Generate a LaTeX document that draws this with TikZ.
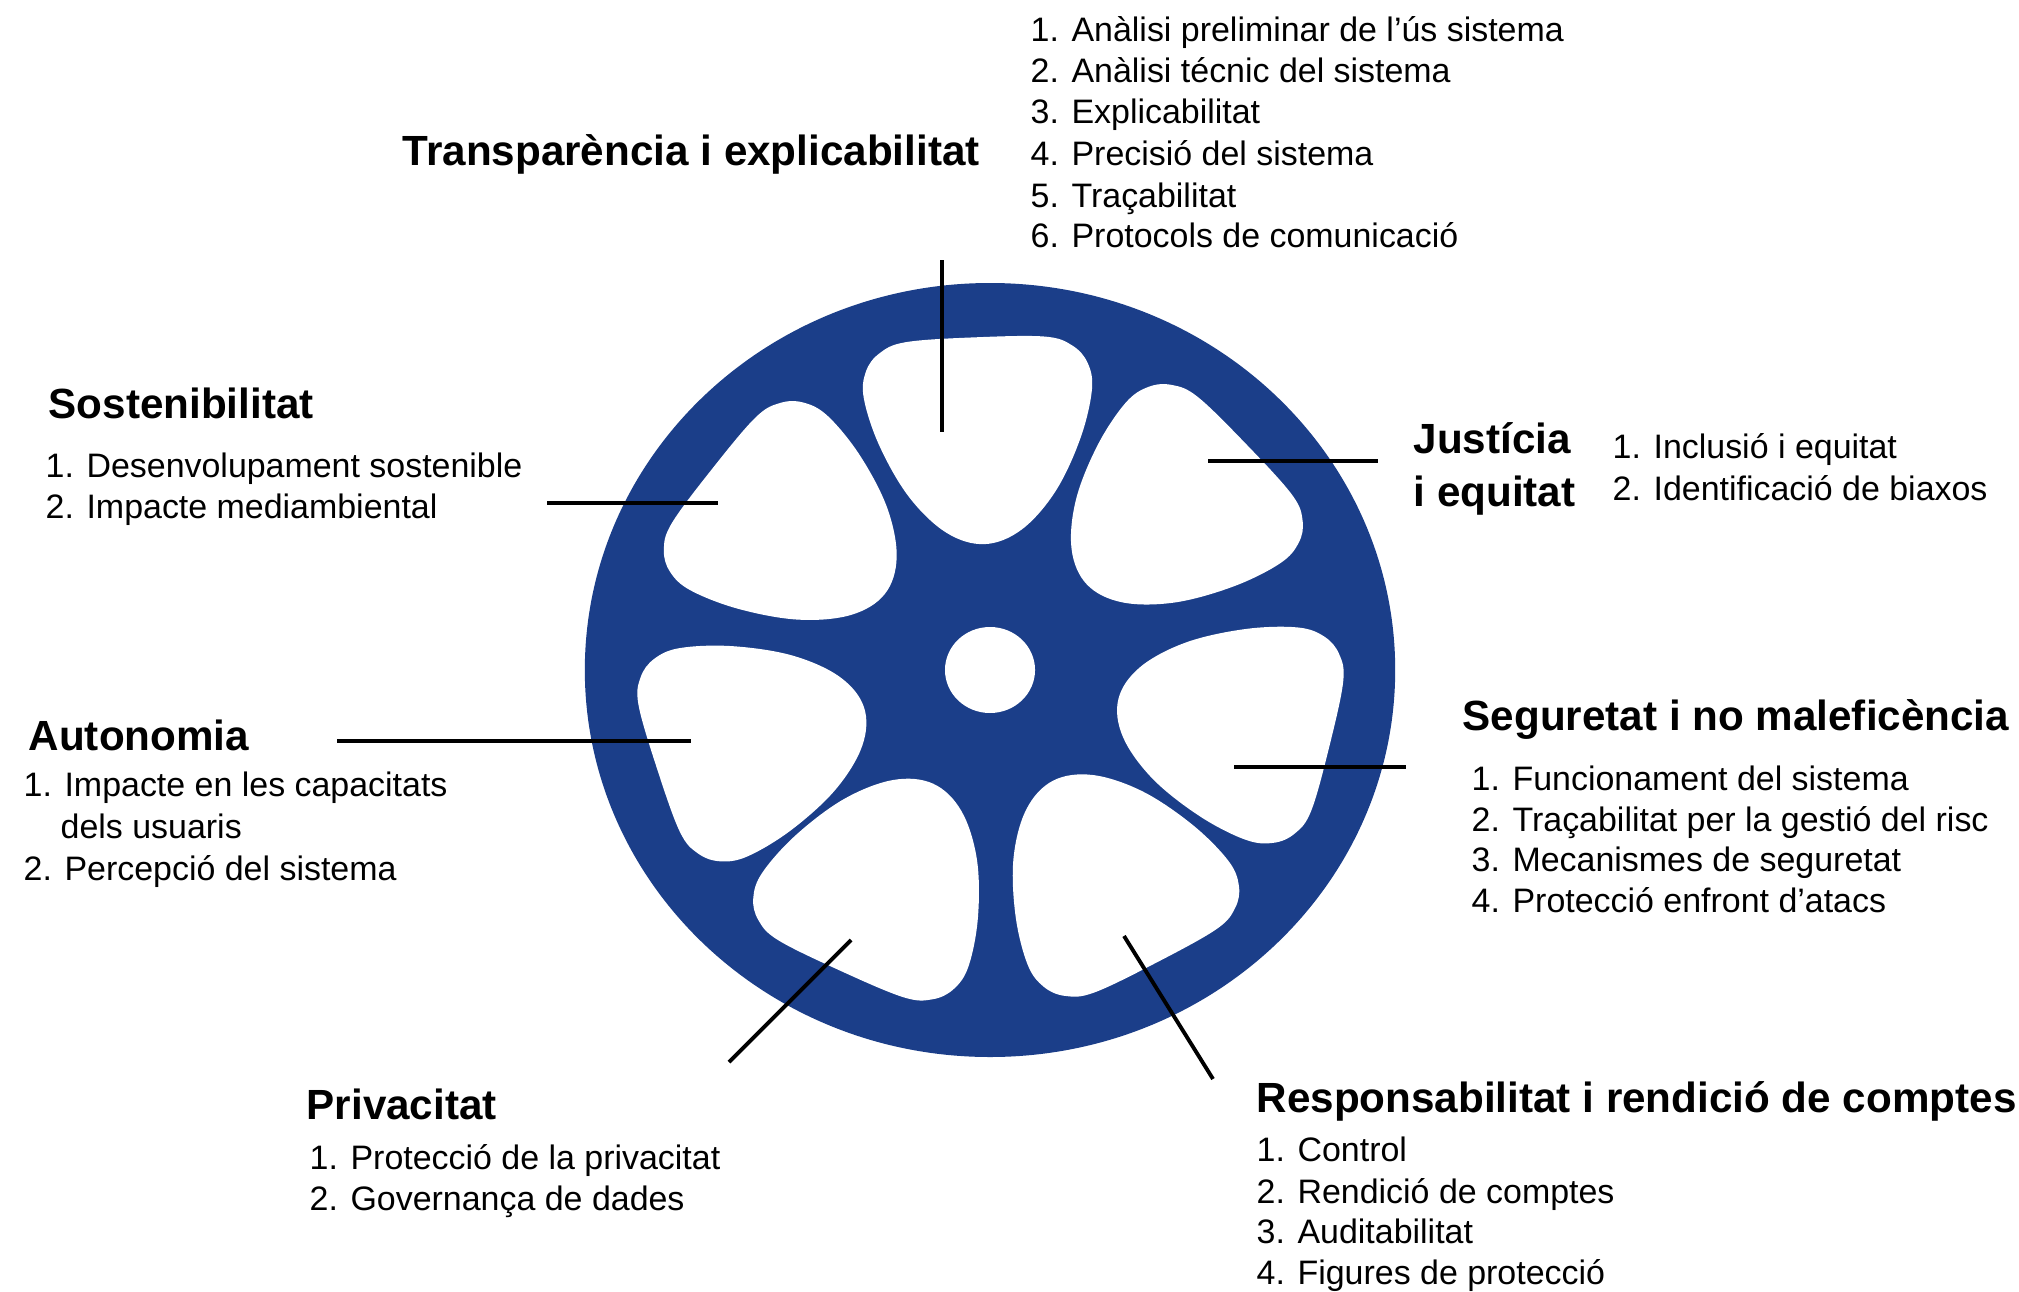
\documentclass[tikz,border=0pt]{standalone}
\usepackage{fontspec}
\setmainfont{Liberation Sans}
\usetikzlibrary{positioning}

\definecolor{wheelblue}{RGB}{27,62,137}

\tikzset{
  heading/.style={font=\fontsize{12}{14}\selectfont\bfseries, anchor=base west, inner sep=0pt},
  item/.style={font=\fontsize{9.65}{11.6}\selectfont, anchor=base west, inner sep=0pt},
  leader/.style={line width=1.1pt, draw=black},
}

\newcommand{\holeshape}{plot[smooth cycle, tension=0.6] coordinates {(0,126) (36,139) (70,176) (96,228) (109,276) (106,303) (92,321) (66,331) (0,333) (-66,331) (-92,321) (-106,303) (-109,276) (-96,228) (-70,176) (-36,139)}}

\begin{document}
\begin{tikzpicture}[x=0.01cm, y=-0.01cm]

\useasboundingbox (0,0) rectangle (2019,1291);

% wheel
\begin{scope}[shift={(990,670)}, xscale=1.047, yscale=-1]
\fill[wheelblue] (0,0) circle (387);
\fill[white, rotate=-2.4] \holeshape;
\fill[white, rotate=-52.9] \holeshape;
\fill[white, rotate=-107.3] \holeshape;
\fill[white, rotate=-154.5] \holeshape;
\fill[white, rotate=-208.5] \holeshape;
\fill[white, rotate=-256.7] \holeshape;
\fill[white, rotate=47.4] \holeshape;
\fill[white] (0,0) circle (43);
\end{scope}

% Transparencia
\node[heading] (tr) at (402,166) {Transparència i explicabilitat};
\node[item] (tr1) at (1030,42) {1. Anàlisi preliminar de l’ús sistema};
\node[item] (tr2) at (1030,83) {2. Anàlisi técnic del sistema};
\node[item] (tr3) at (1030,124) {3. Explicabilitat};
\node[item] (tr4) at (1030,166) {4. Precisió del sistema};
\node[item] (tr5) at (1030,207) {5. Traçabilitat};
\node[item] (tr6) at (1030,248) {6. Protocols de comunicació};
\coordinate (trA) at (942,260);
\coordinate (trB) at (942,432);
\draw[leader] (trA) -- (trB);

% Sostenibilitat
\node[heading] (so) at (48,418) {Sostenibilitat};
\node[item] (so1) at (45,477) {1. Desenvolupament sostenible};
\node[item] (so2) at (45,518) {2. Impacte mediambiental};
\coordinate (soA) at (547,503);
\coordinate (soB) at (718,503);
\draw[leader] (soA) -- (soB);

% Autonomia
\node[heading] (au) at (28,750) {Autonomia};
\node[item] (au1) at (23,796) {1. Impacte en les capacitats};
\node[item] (au1b) at (60,838) {dels usuaris};
\node[item] (au2) at (23,880) {2. Percepció del sistema};
\coordinate (auA) at (337,741);
\coordinate (auB) at (691,741);
\draw[leader] (auA) -- (auB);

% Justicia
\node[heading] (ju) at (1413,453) {Justícia};
\node[heading] (jub) at (1413,506) {i equitat};
\node[item] (ju1) at (1612,458) {1. Inclusió i equitat};
\node[item] (ju2) at (1612,500) {2. Identificació de biaxos};
\coordinate (juA) at (1208,461);
\coordinate (juB) at (1378,461);
\draw[leader] (juA) -- (juB);

% Seguretat
\node[heading] (se) at (1462,730) {Seguretat i no maleficència};
\node[item] (se1) at (1471,790) {1. Funcionament del sistema};
\node[item] (se2) at (1471,831) {2. Traçabilitat per la gestió del risc};
\node[item] (se3) at (1471,871) {3. Mecanismes de seguretat};
\node[item] (se4) at (1471,912) {4. Protecció enfront d’atacs};
\coordinate (seA) at (1234,767);
\coordinate (seB) at (1406,767);
\draw[leader] (seA) -- (seB);

% Responsabilitat
\node[heading] (re) at (1256,1112) {Responsabilitat i rendició de comptes};
\node[item] (re1) at (1256,1161) {1. Control};
\node[item] (re2) at (1256,1203) {2. Rendició de comptes};
\node[item] (re3) at (1256,1243) {3. Auditabilitat};
\node[item] (re4) at (1256,1284) {4. Figures de protecció};
\coordinate (reA) at (1124,936);
\coordinate (reB) at (1213,1079);
\draw[leader] (reA) -- (reB);

% Privacitat
\node[heading] (pr) at (306,1119) {Privacitat};
\node[item] (pr1) at (309,1169) {1. Protecció de la privacitat};
\node[item] (pr2) at (309,1210) {2. Governança de dades};
\coordinate (prA) at (851,940);
\coordinate (prB) at (729,1062);
\draw[leader] (prA) -- (prB);

\end{tikzpicture}
\end{document}
